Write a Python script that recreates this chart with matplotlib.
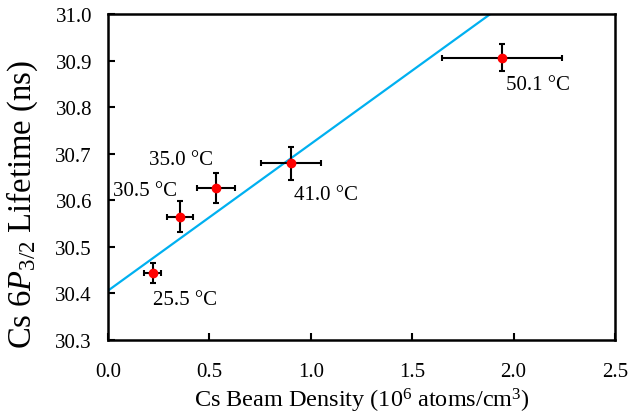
import numpy as np
import matplotlib.pyplot as plt

plt.rcParams['font.family'] = ['Liberation Serif', 'DejaVu Serif']
plt.rcParams['mathtext.fontset'] = 'custom'
plt.rcParams['mathtext.rm'] = 'Liberation Serif'
plt.rcParams['mathtext.it'] = 'Liberation Serif:italic'

density = [0.220, 0.355, 0.533, 0.902, 1.943]
density_err = [0.041, 0.063, 0.093, 0.148, 0.295]
lifetime = [30.444, 30.565, 30.626, 30.679, 30.906]
lifetime_err = [0.022, 0.033, 0.032, 0.036, 0.029]
temps = ["25.5 °C", "30.5 °C", "35.0 °C", "41.0 °C", "50.1 °C"]

# label anchor points (data coords) and alignment
label_x = [0.223, 0.340, 0.518, 0.919, 1.963]
label_y = [30.388, 30.622, 30.687, 30.613, 30.848]
label_ha = ['left', 'right', 'right', 'left', 'left']

fit_intercept = 30.406
fit_slope = 0.315

fig = plt.figure(figsize=(6.29, 4.14), dpi=100)
ax = fig.add_axes([0.1717, 0.1763, 0.806, 0.7875])

xfit = np.array([0.0, 2.5])
ax.plot(xfit, fit_intercept + fit_slope * xfit, color='#00B0F0', lw=1.6, zorder=1)

ax.errorbar(density, lifetime, xerr=density_err, yerr=lifetime_err,
            fmt='o', color='red', ms=6, ecolor='black', elinewidth=1.5,
            capsize=2.5, capthick=1.5, zorder=3)

for x, y, t, ha in zip(label_x, label_y, temps, label_ha):
    ax.text(x, y, t, fontsize=15, ha=ha, va='center')

ax.set_xlim(0, 2.5)
ax.set_ylim(30.3, 31.0)
ax.set_xticks(np.arange(0, 2.51, 0.5))
ax.set_yticks(np.arange(30.3, 31.01, 0.1))
ax.xaxis.set_major_formatter(plt.FormatStrFormatter('%.1f'))
ax.yaxis.set_major_formatter(plt.FormatStrFormatter('%.1f'))
ax.tick_params(direction='in', length=5, width=1.5, labelsize=15,
               top=False, right=False)
ax.tick_params(axis='x', pad=16)
ax.tick_params(axis='y', pad=11.5)
for s in ax.spines.values():
    s.set_linewidth(1.8)

ax.set_xlabel('Cs Beam Density (10$^6$ atoms/cm$^3$)', fontsize=17.5, labelpad=3)
ax.set_ylabel('Cs 6$\\mathit{P}_{3/2}$ Lifetime (ns)', fontsize=23.5, labelpad=11, y=0.42)

fig.savefig('out.png', dpi=100)
